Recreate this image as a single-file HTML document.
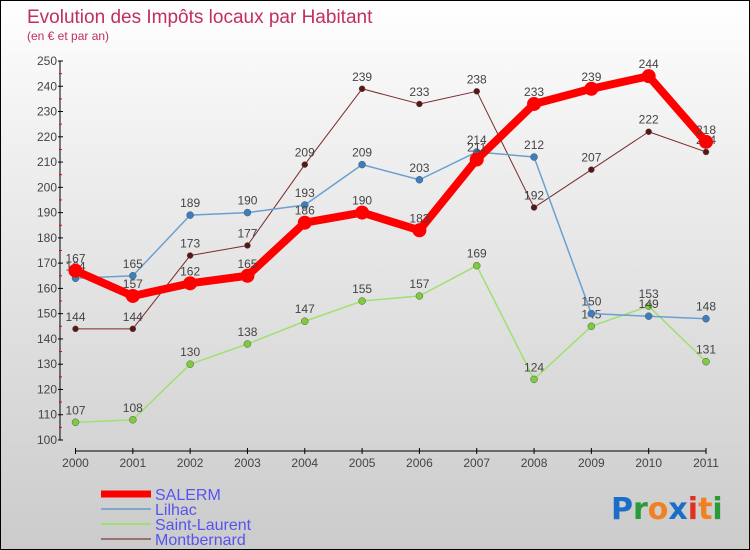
<!DOCTYPE html>
<html><head><meta charset="utf-8"><style>
body{margin:0}
#wrap{position:relative;width:748px;height:548px;border:1px solid #000;background:linear-gradient(#fff,#f3f3f3 20%,#cbcbcb);font-family:"Liberation Sans",sans-serif;overflow:hidden}
</style></head><body>
<div id="wrap">
<svg id="c" width="748" height="548">
<text x="26" y="22" font-size="19" fill="#c0305a">Evolution des Impôts locaux par Habitant</text>
<text x="26" y="39" font-size="12" fill="#c0305a">(en € et par an)</text>
<g id="g"></g>
<text x="610" y="518" font-size="30" font-family="'DejaVu Sans',sans-serif" font-weight="bold"><tspan fill="#1a6ec8">P</tspan><tspan fill="#2a9a3a">r</tspan><tspan fill="#f08020">o</tspan><tspan fill="#1a6ec8">x</tspan><tspan fill="#e03020">i</tspan><tspan fill="#f08020">t</tspan><tspan fill="#2a9a3a">i</tspan></text>
</svg></div>
<script>
const years=[2000,2001,2002,2003,2004,2005,2006,2007,2008,2009,2010,2011];
const yTicks=[100,110,120,130,140,150,160,170,180,190,200,210,220,230,240,250];
const salerm=[167,157,162,165,186,190,183,211,233,239,244,218];
const lilhac=[164,165,189,190,193,209,203,214,212,150,149,148];
const saintLaurent=[107,108,130,138,147,155,157,169,124,145,153,131];
const montbernard=[144,144,173,177,209,239,233,238,192,207,222,214];
const NS="http://www.w3.org/2000/svg",g=document.getElementById('g');
const X=i=>74.5+i*(705-74.5)/11, Y=v=>439-(v-100)*(379/150);
function mk(t,a,txt){const e=document.createElementNS(NS,t);for(const k in a)e.setAttribute(k,a[k]);if(txt!=null)e.textContent=txt;g.appendChild(e);return e;}
let e=mk('line',{x1:59,y1:Y(250),x2:59,y2:Y(100),stroke:'#000'});


e=mk('line',{x1:74.5,y1:450,x2:705,y2:450,stroke:'#000'});


yTicks.forEach((v,i)=>{
 mk('line',{x1:57,x2:62,y1:Y(v),y2:Y(v),stroke:'#000'});
 if(i<yTicks.length-1)mk('line',{x1:58,x2:61,y1:Y(v+5),y2:Y(v+5),stroke:'#e00'});
 e=mk('text',{x:56,y:Y(v)+4,'font-size':12,'text-anchor':'end',fill:'#444'},v);
 
 
});
years.forEach((y,i)=>{
 mk('line',{x1:X(i),x2:X(i),y1:447,y2:453,stroke:'#000'});
 e=mk('text',{x:X(i),y:466,'font-size':12,'text-anchor':'middle',fill:'#444'},y);
 
 
});
const series=[
 {n:'montbernard',d:montbernard,c:'#7a2a2a',w:1,r:3,f:'#5a1515'},
 {n:'saint-laurent',d:saintLaurent,c:'#a0e070',w:1.5,r:3.5,f:'#7ccc3c'},
 {n:'lilhac',d:lilhac,c:'#6aa0d0',w:1.5,r:3.5,f:'#3a80c0'},
 {n:'salerm',d:salerm,c:'#f00',w:8,r:7,f:'#f00'}];
series.forEach(s=>{
 e=mk('polyline',{points:s.d.map((v,i)=>X(i)+','+Y(v)).join(' '),fill:'none',stroke:s.c,'stroke-width':s.w,'stroke-linejoin':'round'});
 
 
 s.d.forEach((v,i)=>{
  e=mk('circle',{cx:X(i),cy:Y(v),r:s.r,fill:s.f,stroke:s.w>2?'none':'#555','stroke-width':0.5});
  
  
  e=mk('text',{x:X(i),y:Y(v)-8,'font-size':12,'text-anchor':'middle',fill:'#444'},v);
  
  
 });
});
const leg=[['SALERM','#f00',7],['Lilhac','#80a8cc',2],['Saint-Laurent','#a0e070',2],['Montbernard','#9a7070',2]];
leg.forEach((l,i)=>{
 const y=493+i*15;
 e=mk('line',{x1:100,x2:150,y1:y,y2:y,stroke:l[1],'stroke-width':l[2]});
 
 
 e=mk('text',{x:154,y:y+6,'font-size':16,fill:'#5555ee'},l[0]);
 
 
});
</script>
</body></html>
